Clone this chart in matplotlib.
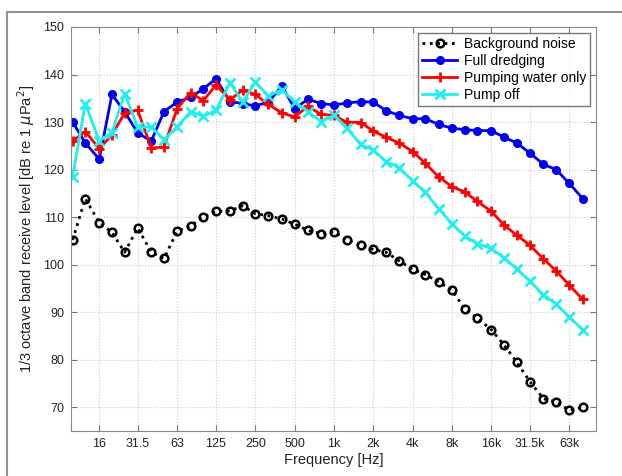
import numpy as np
import matplotlib.pyplot as plt
from matplotlib.ticker import FixedLocator, NullLocator
from matplotlib.patches import Rectangle

plt.rcParams['font.family'] = ['Liberation Sans', 'DejaVu Sans']

# 1/3 octave band centre frequencies [Hz]
freq = [10, 12.5, 16, 20, 25, 31.5, 40, 50, 63, 80, 100, 125, 160, 200, 250,
        315, 400, 500, 630, 800, 1000, 1250, 1600, 2000, 2500, 3150, 4000,
        5000, 6300, 8000, 10000, 12500, 16000, 20000, 25000, 31500, 40000,
        50000, 63000, 80000]

background = [105.2, 113.9, 108.8, 106.8, 102.6, 107.7, 102.6, 101.3, 107.0, 108.2,
              110.0, 111.2, 111.3, 112.4, 110.7, 110.3, 109.6, 108.5, 107.2, 106.5,
              106.9, 105.2, 104.1, 103.2, 102.6, 100.8, 99.0, 97.9, 96.4, 94.6,
              90.7, 88.7, 86.3, 83.1, 79.5, 75.4, 71.8, 71.1, 69.4, 70.0]
full_dredging = [130.0, 125.6, 122.2, 135.8, 132.2, 127.7, 126.0, 132.2, 134.2, 135.2,
                 137.0, 139.1, 134.3, 133.9, 133.4, 134.2, 137.6, 132.8, 134.8, 133.9,
                 133.6, 134.0, 134.3, 134.2, 132.4, 131.4, 130.7, 130.7, 129.5, 128.7,
                 128.4, 128.2, 128.2, 126.8, 125.6, 123.5, 121.1, 120.0, 117.1, 113.9]
pumping_water = [126.0, 128.0, 124.4, 127.3, 131.9, 132.5, 124.5, 124.8, 132.8, 136.2,
                 134.5, 137.8, 134.7, 136.7, 135.8, 133.7, 131.9, 131.1, 133.3, 131.6,
                 131.4, 130.0, 129.9, 128.1, 126.8, 125.6, 123.8, 121.3, 118.5, 116.4,
                 115.3, 113.3, 111.2, 108.3, 106.2, 104.1, 101.2, 98.7, 95.7, 92.7]
pump_off = [118.5, 133.9, 126.0, 127.8, 136.0, 128.9, 129.0, 126.3, 129.0, 132.2,
            131.2, 132.5, 138.3, 134.2, 138.4, 135.5, 136.8, 134.2, 132.2, 130.1,
            131.4, 128.7, 125.3, 124.1, 121.7, 120.4, 117.6, 115.2, 111.8, 108.6,
            106.0, 104.4, 103.4, 101.4, 99.1, 96.5, 93.7, 91.7, 89.0, 86.3]

tick_freq = [16, 31.5, 63, 125, 250, 500, 1000, 2000, 4000, 8000, 16000, 31500, 63000]
tick_labels = ['16', '31.5', '63', '125', '250', '500', '1k', '2k', '4k', '8k',
               '16k', '31.5k', '63k']

fig = plt.figure(figsize=(6.22, 4.76), dpi=100)
fig.patches.append(Rectangle((7 / 622, -0.1), 1.2, 1 - 12 / 476 + 0.1,
                             transform=fig.transFigure, fill=False,
                             edgecolor='#9c8c8a', lw=1.5, zorder=0))
ax = fig.add_axes([71 / 622, 1 - 431 / 476, (596 - 71) / 622, (431 - 27) / 476])

ax.plot(freq, background, ':', color='black', lw=2, marker='o', ms=5.5,
        mfc='none', mec='black', mew=1.8, label='Background noise')
ax.plot(freq, full_dredging, '-', color='#0000ee', lw=2, marker='o', ms=5.5,
        label='Full dredging')
ax.plot(freq, pumping_water, '-', color='#ff0000', lw=2, marker='+', ms=7.5,
        mew=2, label='Pumping water only')
ax.plot(freq, pump_off, '-', color='#22eeee', lw=2, marker='x', ms=6.5,
        mew=2, label='Pump off')

ax.set_xscale('log')
ax.set_xlim(9.72, 101000)
ax.set_ylim(65, 150)
ax.xaxis.set_major_locator(FixedLocator(tick_freq))
ax.xaxis.set_minor_locator(NullLocator())
ax.set_xticklabels(tick_labels)
ax.set_yticks(np.arange(70, 151, 10))

ax.tick_params(direction='in', top=True, right=True, length=4, width=0.8,
               labelsize=9, colors='#777777', labelcolor='#222222', pad=5)
for s in ax.spines.values():
    s.set_color('#888888')
ax.grid(True, ls=':', color='#cccccc', lw=0.8)

ax.set_xlabel('Frequency [Hz]', fontsize=10.5, color='#222222', labelpad=2)
ax.set_ylabel('1/3 octave band receive level [dB re 1 $\\mu$Pa$^2$]',
              fontsize=10.5, color='#222222', labelpad=4)

leg = ax.legend(loc='upper right', fontsize=10, frameon=True, fancybox=False,
                edgecolor='#555555', borderaxespad=0.4, handlelength=2.5,
                labelspacing=0.22, borderpad=0.3, handletextpad=0.5)
leg.get_frame().set_linewidth(1)

fig.savefig('out.png', dpi=100)
